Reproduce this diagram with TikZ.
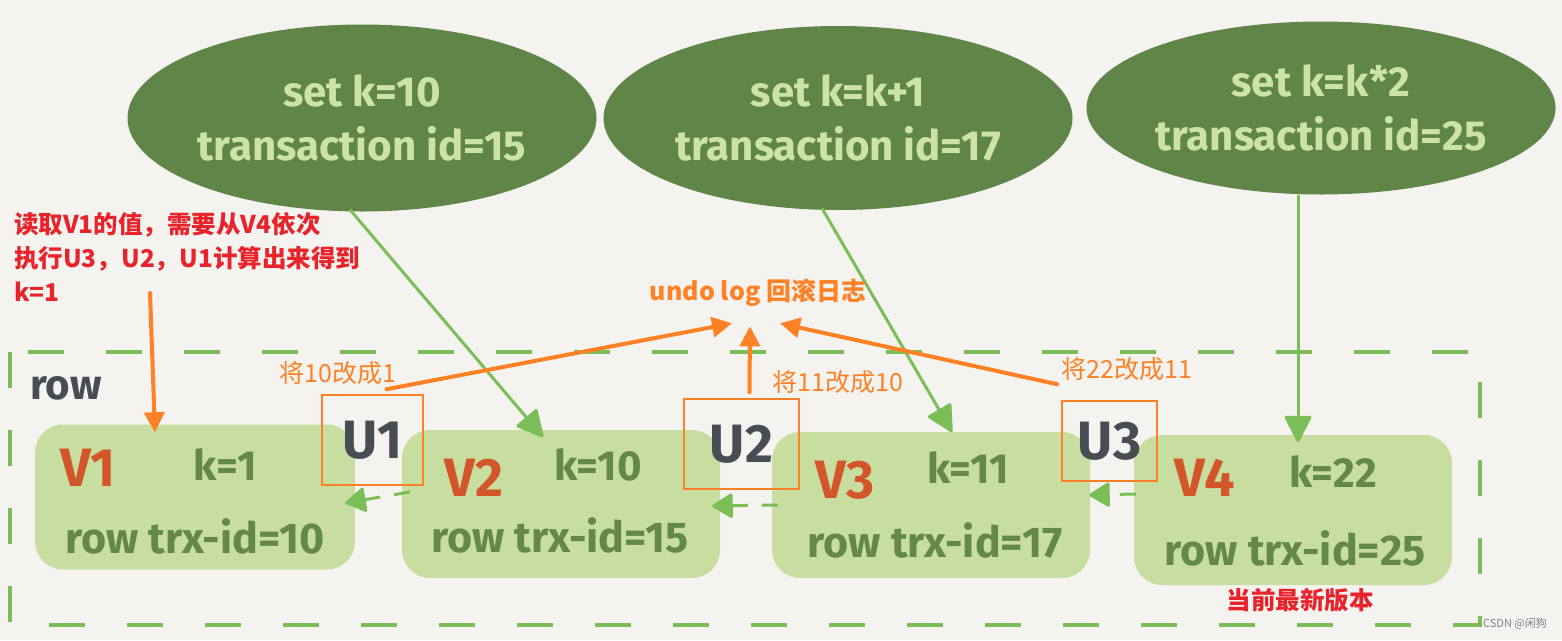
\documentclass[tikz,border=0pt]{standalone}
\usepackage{fontspec}
\setmainfont{Noto Sans CJK SC}
\newfontfamily\hand{Fira Sans}
\usetikzlibrary{shapes.geometric,arrows.meta,calc}
\definecolor{bg}{HTML}{F4F3EF}
\definecolor{darkg}{HTML}{5F8548}
\definecolor{palet}{HTML}{CDE2A8}
\definecolor{boxg}{HTML}{C8DEA0}
\definecolor{lineg}{HTML}{7BBE57}
\definecolor{txtg}{HTML}{64874A}
\definecolor{vred}{HTML}{D2562A}
\definecolor{ugray}{HTML}{474D52}
\definecolor{orng}{HTML}{FF8125}
\definecolor{notered}{HTML}{E8232B}
\tikzset{
  ell/.style={ellipse, fill=darkg, text=palet, minimum width=469pt, inner sep=0pt, align=center, font=\hand\bfseries\fontsize{42}{54}\selectfont},
  vbox/.style={fill=boxg, rounded corners=28pt, inner sep=0pt},
  ubox/.style={draw=orng, line width=1.5pt, inner sep=0pt},
  vlab/.style={text=vred, font=\hand\bfseries\fontsize{54}{54}\selectfont},
  klab/.style={text=txtg, font=\hand\bfseries\fontsize{42}{42}\selectfont},
  rlab/.style={text=txtg, font=\hand\bfseries\fontsize{43}{43}\selectfont},
  ulab/.style={text=ugray, font=\hand\bfseries\fontsize{54}{54}\selectfont},
  garrow/.style={draw=lineg, line width=3pt, -{Triangle[length=28pt,width=28pt,round]}},
  gdash/.style={draw=lineg, line width=3pt, dash pattern=on 16pt off 14pt, -{Triangle[length=22pt,width=26pt,round]}},
  oarrow/.style={draw=orng, line width=4pt, line cap=round, -{Triangle[length=20pt,width=20pt]}},
  olab/.style={text=orng, font=\fontsize{25}{25}\selectfont},
}
\begin{document}
\begin{tikzpicture}[x=1pt,y=-1pt]
\fill[bg] (0,0) rectangle (1562,640);
\useasboundingbox (0,0) rectangle (1562,640);

% dashed frame
\draw[lineg, line width=4pt, dash pattern=on 36pt off 42pt] (10,352) rectangle (1480,625);
\node[text=ugray, font=\hand\bfseries\fontsize{42}{42}\selectfont] (rowlab) at (66,388) {row};

% ellipses
\node[ell, minimum height=187pt] (e1) at (362,118) {set k=10\\transaction id=15};
\node[ell, minimum height=184pt] (e2) at (838,118) {set k=k+1\\transaction id=17};
\node[ell, minimum height=173pt] (e3) at (1321,108) {set k=k*2\\transaction id=25};

% version boxes
\node[vbox, minimum width=320pt, minimum height=145pt] (v1) at (195,497) {};
\node[vbox, minimum width=318pt, minimum height=148pt] (v2) at (561,504) {};
\node[vbox, minimum width=318pt, minimum height=146pt] (v3) at (931,505) {};
\node[vbox, minimum width=318pt, minimum height=150pt] (v4) at (1293,510) {};

\node[vlab] (v1n) at (88,468) {V1};
\node[klab] (v1k) at (225,465) {k=1};
\node[rlab] (v1r) at (195,536) {row trx-id=10};
\node[vlab] (v2n) at (474,478) {V2};
\node[klab] (v2k) at (598,465) {k=10};
\node[rlab] (v2r) at (560,535) {row trx-id=15};
\node[vlab] (v3n) at (845,480) {V3};
\node[klab] (v3k) at (968,468) {k=11};
\node[rlab] (v3r) at (935,540) {row trx-id=17};
\node[vlab] (v4n) at (1205,478) {V4};
\node[klab] (v4k) at (1333,472) {k=22};
\node[rlab] (v4r) at (1295,548) {row trx-id=25};

% green arrows from transactions
\coordinate (t1) at (543,437);
\coordinate (t2) at (952,432);
\coordinate (t3) at (1298,442);
\draw[garrow] (e1.south) ++(-12,-2) -- (t1);
\draw[garrow] (e2.south) ++(-16,-2) -- (t2);
\draw[garrow] (e3.south) ++(-23,0) -- (t3);

% undo boxes
\node[ubox, minimum width=101pt, minimum height=90pt] (u1) at (372.5,440) {};
\node[ubox, minimum width=115pt, minimum height=90pt] (u2) at (741.5,444) {};
\node[ubox, minimum width=95pt, minimum height=80pt] (u3) at (1109.5,441) {};
\node[ulab] at (u1) {U1};
\node[ulab] at (u2) {U2};
\node[ulab] at (u3) {U3};

% dashed back-pointers
\draw[gdash] ($(v2.west)+(8,-12)$) -- ($(v1.east)+(-10,6)$);
\draw[gdash] ($(v3.west)+(6,0)$) -- ($(v2.east)+(-8,2)$);
\draw[gdash] ($(v4.west)+(2,-16)$) -- ($(v3.east)+(-1,-10)$);

% undo log
\node[olab, font=\bfseries\fontsize{25}{25}\selectfont] (undo) at (758,293) {undo log 回滚日志};
\draw[oarrow] ($(u1.north)+(14,-5)$) -- ($(undo.south)+(-26,13)$);
\draw[oarrow] ($(u2.north)+(8,-6)$) -- ($(undo.south)+(-8,16)$);
\draw[oarrow] ($(u3.north west)+(-4,-16)$) -- ($(undo.south)+(22,13)$);

\node[olab] (l1) at (338,373) {将10改成1};
\node[olab] (l2) at (838,382) {将11改成10};
\node[olab] (l3) at (1127,369) {将22改成11};

% note
\node[text=notered, font=\bfseries\fontsize{24.5}{34}\selectfont, align=left, anchor=north west, inner sep=0pt] (note) at (14,212) {读取V1的值，需要从V4依次\\执行U3，U2，U1计算出来得到\\k=1};
\draw[oarrow] (150,293) -- ($(v1.north)+(-40,8)$);

\node[text=notered, font=\bfseries\fontsize{24.5}{24.5}\selectfont] (latest) at (1300,600) {当前最新版本};
\node[text=gray, font=\fontsize{11}{11}\selectfont] (csdn) at (1515,624) {CSDN @闲狗};
\end{tikzpicture}
\end{document}
